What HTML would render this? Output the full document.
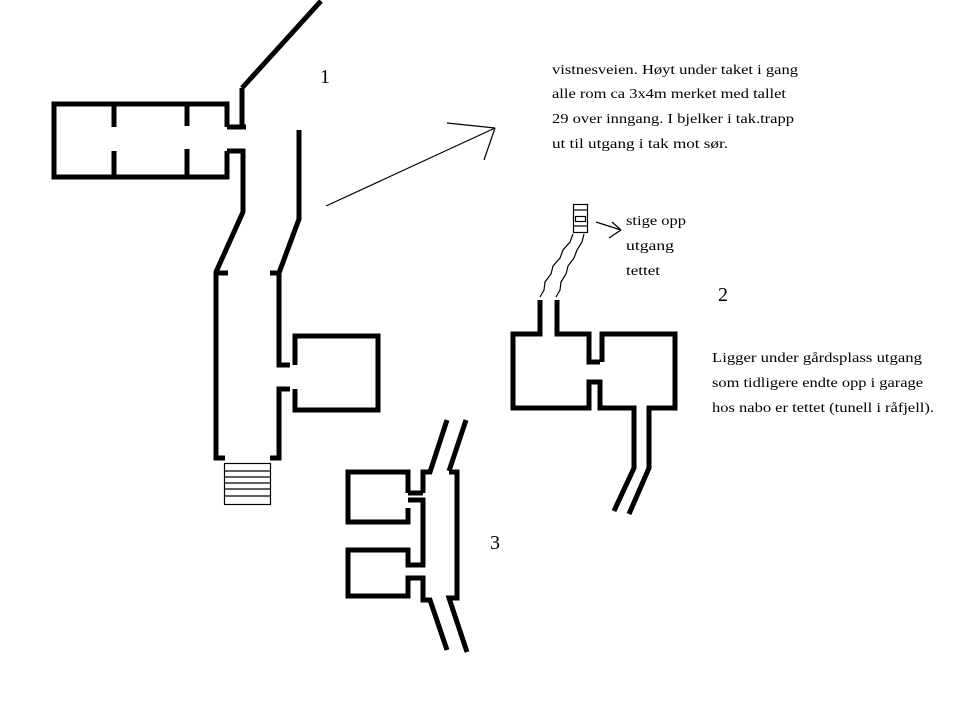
<!DOCTYPE html>
<html><head><meta charset="utf-8"><style>
html,body{margin:0;padding:0;background:#fff;}
svg{display:block;}
text{font-family:"Liberation Serif",serif;font-size:14px;fill:#000;}
text.n{font-size:20px;}
</style></head><body>
<svg width="978" height="705" viewBox="0 0 978 705" xmlns="http://www.w3.org/2000/svg">
<rect width="978" height="705" fill="#fff"/>
<g fill="none" stroke="#000" stroke-width="5" stroke-linejoin="miter">
<polyline points="227,127 227,104 54,104 54,177 227,177 227,151"/>
<line x1="114" y1="104" x2="114" y2="127"/>
<line x1="114" y1="151" x2="114" y2="177"/>
<line x1="187" y1="104" x2="187" y2="126"/>
<line x1="187" y1="149" x2="187" y2="177"/>
<polyline points="227,127 246,127"/>
<line x1="242" y1="88" x2="242" y2="125"/>
<line x1="242" y1="88" x2="321" y2="1"/>
<polyline points="227,151 243,151 243,212 216,272 216,458 225,458"/>
<line x1="216" y1="273" x2="228" y2="273"/>
<polyline points="299,130 299,219 279,273 279,365 290,365"/>
<line x1="270" y1="273" x2="280" y2="273"/>
<polyline points="295,365 295,336 378,336 378,410 295,410 295,389"/>
<polyline points="290,389 279,389 279,458 270,458"/>
<polyline points="540,300 540,334 513,334 513,408 589,408 589,382 600,382 600,408 634,408 634,468 614,511"/>
<polyline points="557,300 557,334 589,334 589,362 600,362"/>
<polyline points="602,362 602,334 675,334 675,408 649,408 649,468 629,514"/>
<polyline points="408,493 408,472 348,472 348,522 408,522 408,508"/>
<polyline points="408,493 423,493"/>
<polyline points="408,500 423,500 423,565 408,565 408,550 348,550 348,596 408,596 408,578 423,578 423,600 430,600 447,650"/>
<polyline points="423,493 423,472 430,472 447,420"/>
<polyline points="449,472 457,472 457,598 449,598 467,652"/>
<line x1="449" y1="471" x2="466" y2="420"/>
</g>
<g fill="none" stroke="#000" stroke-width="1.2">
<rect x="224.5" y="463.5" width="46" height="41"/>
<line x1="224" y1="471" x2="271" y2="471"/>
<line x1="224" y1="477" x2="271" y2="477"/>
<line x1="224" y1="483" x2="271" y2="483"/>
<line x1="224" y1="489" x2="271" y2="489"/>
<line x1="224" y1="496" x2="271" y2="496"/>
<line x1="326" y1="206" x2="495" y2="128"/>
<line x1="447" y1="123" x2="495" y2="128"/>
<line x1="484" y1="160" x2="495" y2="128"/>
<rect x="573.5" y="204.5" width="14" height="28"/>
<line x1="573" y1="210" x2="588" y2="210"/>
<rect x="575.5" y="216.5" width="10" height="5"/>
<line x1="573" y1="226" x2="588" y2="226"/>
<polyline points="573,234 570,242 563,250 560,258 553,266 551,274 545,282 544,290 540,297"/>
<polyline points="584,234 582,242 577,250 574,258 568,266 566,274 561,282 560,290 556,297"/>
<line x1="596" y1="222" x2="621" y2="230"/>
<line x1="612" y1="222" x2="621" y2="230"/>
<line x1="609" y1="238" x2="621" y2="230"/>
</g>
<text class="n" x="320" y="83">1</text>
<text class="n" x="718" y="301">2</text>
<text class="n" x="490" y="549">3</text>
<text x="552" y="74" textLength="246" lengthAdjust="spacingAndGlyphs">vistnesveien. Høyt under taket i gang</text>
<text x="552" y="98" textLength="234" lengthAdjust="spacingAndGlyphs">alle rom ca 3x4m merket med tallet</text>
<text x="552" y="123" textLength="242" lengthAdjust="spacingAndGlyphs">29 over inngang. I bjelker i tak.trapp</text>
<text x="552" y="148" textLength="176" lengthAdjust="spacingAndGlyphs">ut til utgang i tak mot sør.</text>
<text x="626" y="225" textLength="60" lengthAdjust="spacingAndGlyphs">stige opp</text>
<text x="626" y="250" textLength="48" lengthAdjust="spacingAndGlyphs">utgang</text>
<text x="626" y="275" textLength="34" lengthAdjust="spacingAndGlyphs">tettet</text>
<text x="712" y="362" textLength="210" lengthAdjust="spacingAndGlyphs">Ligger under gårdsplass utgang</text>
<text x="712" y="387" textLength="211" lengthAdjust="spacingAndGlyphs">som tidligere endte opp i garage</text>
<text x="712" y="412" textLength="222" lengthAdjust="spacingAndGlyphs">hos nabo er tettet (tunell i råfjell).</text>
</svg>
</body></html>
